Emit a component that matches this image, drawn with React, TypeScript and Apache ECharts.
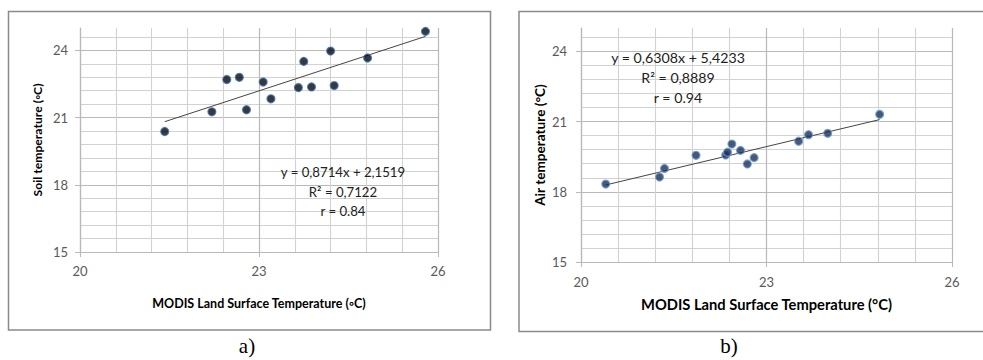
import React, { useEffect, useRef } from "react";
import * as echarts from "echarts";

// Panel a) Soil temperature vs MODIS LST
const soilX = [21.42, 22.21, 22.46, 22.67, 22.79, 23.07, 23.2, 23.66, 23.75, 23.88, 24.2, 24.26, 24.82, 25.79];
const soilY = [20.38, 21.26, 22.7, 22.8, 21.35, 22.59, 21.84, 22.34, 23.51, 22.37, 23.97, 22.43, 23.66, 24.85];
const soilSlope = 0.8714;
const soilIntercept = 2.1519;
const soilEq = ["y = 0,8714x + 2,1519", "R² = 0,7122", "r = 0.84"];

// Panel b) Air temperature vs MODIS LST
const airX = [20.4, 21.27, 21.35, 21.86, 22.34, 22.37, 22.44, 22.58, 22.69, 22.8, 23.52, 23.68, 23.99, 24.83];
const airY = [18.33, 18.63, 19.0, 19.56, 19.57, 19.69, 20.04, 19.77, 19.19, 19.46, 20.16, 20.44, 20.5, 21.31];
const airSlope = 0.6308;
const airIntercept = 5.4233;
const airEq = ["y = 0,6308x + 5,4233", "R² = 0,8889", "r = 0.94"];

const xTitleA = "MODIS Land Surface Temperature (◦C)";
const yTitleA = "Soil temperature (◦C)";
const xTitleB = "MODIS Land Surface Temperature (°C)";
const yTitleB = "Air temperature (°C)";
const panelLabels = ["a)", "b)"];

const FONT = "Lato, 'Open Sans', sans-serif";
const MAJOR = "#b9b9b9";
const MINOR = "#d2d2d2";

const trend = (xs: number[], m: number, b: number) => {
  const lo = Math.min(...xs);
  const hi = Math.max(...xs);
  return [
    [lo, m * lo + b],
    [hi, m * hi + b],
  ];
};

const xAxisCfg = (gridIndex: number, name: string, nameSize: number, nameGap: number, margin: number) => ({
  type: "value",
  gridIndex,
  min: 20,
  max: 26,
  interval: 3,
  name,
  nameLocation: "middle",
  nameGap,
  nameTextStyle: { fontFamily: FONT, fontWeight: "bold", fontSize: nameSize, color: "#000" },
  axisLine: { show: true, lineStyle: { color: MAJOR, width: 1.2 } },
  axisTick: { show: true, length: 5, lineStyle: { color: MAJOR } },
  axisLabel: { color: "#595959", fontSize: 13, fontFamily: FONT, margin },
  splitLine: { show: true, lineStyle: { color: MAJOR, width: 1.2 } },
  minorTick: { show: false, splitNumber: 5 },
  minorSplitLine: { show: true, lineStyle: { color: MINOR, width: 1.1 } },
});

const yAxisCfg = (gridIndex: number, name: string, nameSize: number, nameGap: number, margin: number) => ({
  type: "value",
  gridIndex,
  min: 15,
  max: 25,
  interval: 3,
  name,
  nameLocation: "middle",
  nameGap,
  nameTextStyle: { fontFamily: FONT, fontWeight: "bold", fontSize: nameSize, color: "#000" },
  axisLine: { show: true, lineStyle: { color: MAJOR, width: 1.2 } },
  axisTick: { show: true, length: 5, lineStyle: { color: MAJOR } },
  axisLabel: {
    color: "#595959",
    fontSize: 13,
    fontFamily: FONT,
    margin,
    showMaxLabel: false,
    formatter: (v: number) => (Math.abs(v / 3 - Math.round(v / 3)) < 1e-6 ? String(v) : ""),
  },
  splitLine: {
    show: true,
    lineStyle: { color: [MAJOR, MAJOR, MAJOR, MAJOR, "rgba(0,0,0,0)"], width: 1.2 },
  },
  minorTick: { show: false, splitNumber: 5 },
  minorSplitLine: { show: true, lineStyle: { color: MINOR, width: 1.1 } },
});

const eqText = (lines: string[], cx: number, y0: number, size: number, gap: number) =>
  lines.map((t, i) => ({
    type: "text",
    x: cx,
    y: y0 + i * gap,
    style: {
      text: t,
      font: `${size}px ${FONT}`,
      fill: "#222",
      align: "center",
      verticalAlign: "middle",
    },
    z: 10,
  }));

export default function App() {
  const ref = useRef<HTMLDivElement>(null);

  useEffect(() => {
    if (!ref.current) return;
    const chart = echarts.init(ref.current, null, { renderer: "svg" });
    const option: any = {
      animation: false,
      backgroundColor: "#fff",
      grid: [
        { left: 80, top: 28, width: 358, height: 224, containLabel: false },
        { left: 581, top: 28, width: 371, height: 234, containLabel: false },
      ],
      xAxis: [xAxisCfg(0, xTitleA, 12.5, 45, 12), xAxisCfg(1, xTitleB, 14.7, 34, 13)],
      yAxis: [yAxisCfg(0, yTitleA, 12.2, 37, 12), yAxisCfg(1, yTitleB, 13.6, 34, 14)],
      series: [
        {
          type: "line",
          xAxisIndex: 0,
          yAxisIndex: 0,
          data: trend(soilX, soilSlope, soilIntercept),
          symbol: "none",
          lineStyle: { color: "#444", width: 1 },
          z: 3,
        },
        {
          type: "scatter",
          xAxisIndex: 0,
          yAxisIndex: 0,
          data: soilX.map((x, i) => [x, soilY[i]]),
          symbolSize: 8,
          itemStyle: { color: "#05070d", borderColor: "#3d72b8", borderWidth: 1.2 },
          z: 4,
        },
        {
          type: "line",
          xAxisIndex: 1,
          yAxisIndex: 1,
          data: trend(airX, airSlope, airIntercept),
          symbol: "none",
          lineStyle: { color: "#444", width: 1 },
          z: 3,
        },
        {
          type: "scatter",
          xAxisIndex: 1,
          yAxisIndex: 1,
          data: airX.map((x, i) => [x, airY[i]]),
          symbolSize: 8,
          itemStyle: { color: "#1a2f55", borderColor: "#6d9bd6", borderWidth: 1.2 },
          z: 4,
        },
      ],
      graphic: [
        {
          type: "rect",
          shape: { x: 8.5, y: 11.5, width: 482, height: 318.5 },
          style: { fill: "none", stroke: "#8a8a8a", lineWidth: 1.5 },
          z: 1,
        },
        {
          type: "rect",
          shape: { x: 519, y: 11.5, width: 480, height: 320 },
          style: { fill: "none", stroke: "#8a8a8a", lineWidth: 1.5 },
          z: 1,
        },
        ...eqText(soilEq, 343, 172, 13.2, 19.5),
        ...eqText(airEq, 678, 57, 14.2, 20),
        {
          type: "text",
          x: 247,
          y: 346,
          style: {
            text: panelLabels[0],
            font: "21px 'Liberation Serif', 'Times New Roman', serif",
            fill: "#000",
            align: "center",
            verticalAlign: "middle",
          },
        },
        {
          type: "text",
          x: 729,
          y: 346,
          style: {
            text: panelLabels[1],
            font: "21px 'Liberation Serif', 'Times New Roman', serif",
            fill: "#000",
            align: "center",
            verticalAlign: "middle",
          },
        },
      ],
    };
    chart.setOption(option);
    return () => chart.dispose();
  }, []);

  return (
    <div
      ref={ref}
      style={{ position: "absolute", left: 0, top: 0, width: 983, height: 360, background: "#fff" }}
    />
  );
}
